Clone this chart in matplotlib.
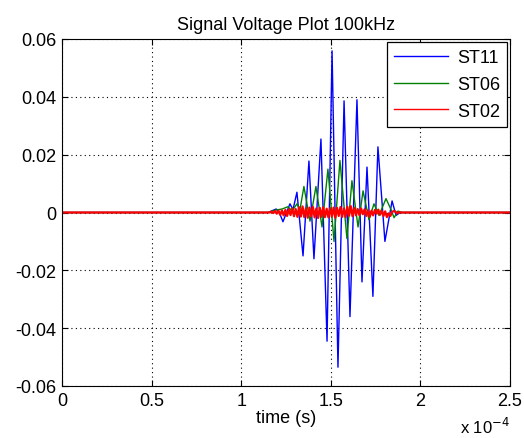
import numpy as np
import matplotlib
matplotlib.use('Agg')
import matplotlib.pyplot as plt
from matplotlib.ticker import FuncFormatter

plt.rcParams['font.family'] = ['Liberation Sans', 'DejaVu Sans']

# times in units of 1e-4 s
st11_t = [0, 1.150, 1.172, 1.195, 1.211, 1.233, 1.256, 1.272, 1.289, 1.311, 1.345,
          1.378, 1.406, 1.445, 1.479, 1.507, 1.540, 1.574, 1.607, 1.646, 1.674,
          1.702, 1.735, 1.763, 1.802, 1.842, 1.864, 1.887, 2.5]
st11_v = [0, 0, 0.0006, 0.0012, 0.0003, -0.0032, 0.0005, 0.0030, 0.0010, 0.0070, -0.0150,
          0.0178, -0.0160, 0.0254, -0.0445, 0.0559, -0.0535, 0.0386, -0.0360, 0.0390, -0.0240,
          0.0157, -0.0290, 0.0227, -0.0100, 0.0040, -0.0010, 0, 0]

st06_t = [0, 1.150, 1.189, 1.228, 1.261, 1.284, 1.311, 1.328, 1.350, 1.384, 1.417,
          1.451, 1.484, 1.518, 1.551, 1.590, 1.618, 1.652, 1.680, 1.713, 1.741,
          1.769, 1.808, 1.836, 1.853, 1.875, 1.897, 2.5]
st06_v = [0, 0, 0.0008, 0.0012, 0.0020, 0.0005, 0.0030, 0.0010, 0.0090, -0.0030, 0.0090,
          -0.0050, 0.0150, -0.0100, 0.0180, -0.0090, 0.0110, -0.0050, 0.0075, -0.0025, 0.0030,
          -0.0010, 0.0048, 0.0010, -0.0018, 0.0005, 0, 0]

st02_v = [0, 0.0003, -0.0002, 0.0005, -0.0004, 0.0006, -0.0008, 0.0007, -0.0010, 0.0009,
          -0.0012, 0.0011, -0.0009, 0.0014, -0.0013, 0.0012, -0.0015, 0.0018, -0.0014, 0.0021,
          -0.0016, 0.0015, -0.0018, 0.0017, -0.0013, 0.0019, -0.0017, 0.0014, -0.0019, 0.0016,
          -0.0015, 0.0018, -0.0016, 0.0013, -0.0017, 0.0015, -0.0014, 0.0017, -0.0018, 0.0016,
          -0.0012, 0.0019, -0.0015, 0.0014, -0.0016, 0.0020, -0.0011, 0.0022, -0.0013, 0.0016,
          -0.0010, 0.0012, -0.0009, 0.0014, -0.0006, 0.0011, -0.0012, 0.0008, -0.0015, 0.0006,
          -0.0010, 0.0009, -0.0004, 0.0010, -0.0008, 0.0006, -0.0012, 0.0004, -0.0016, -0.0003,
          -0.0012, 0.0002, 0.0005, 0.0003, -0.0003, 0.0001, 0]
st02_span = (1.16, 1.89)

xticks = [0, 0.5, 1, 1.5, 2, 2.5]
yticks = [-0.06, -0.04, -0.02, 0, 0.02, 0.04, 0.06]

scale = 1e-4
t11 = np.array(st11_t) * scale
t06 = np.array(st06_t) * scale
t02 = np.concatenate([[0], np.linspace(st02_span[0], st02_span[1], len(st02_v)), [2.5]]) * scale
v02 = np.concatenate([[0], st02_v, [0]])

fig = plt.figure(figsize=(5.24, 4.39), dpi=100)
ax = fig.add_axes([62 / 524, 52 / 439, 448 / 524, 347 / 439])

ax.plot(t11, st11_v, color='#0000ff', lw=1.0, label='ST11')
ax.plot(t06, st06_v, color='#008000', lw=1.0, label='ST06')
ax.plot(t02, v02, color='#ff0000', lw=1.6, label='ST02')

ax.set_xlim(0, 2.5e-4)
ax.set_ylim(-0.06, 0.06)
ax.set_xticks([x * scale for x in xticks])
ax.set_yticks(yticks)
ax.xaxis.set_major_formatter(FuncFormatter(lambda v, p: '%g' % round(v / scale, 3)))
ax.yaxis.set_major_formatter(FuncFormatter(lambda v, p: '%g' % round(v, 3)))
ax.tick_params(direction='in', length=4, width=0.8, top=True, right=True,
               labelsize=13, colors='black', pad=4)
ax.grid(True, color='black', linestyle=(0, (1, 3)), linewidth=0.8)
for s in ax.spines.values():
    s.set_linewidth(0.8)

ax.set_title('Signal Voltage Plot 100kHz', fontsize=13, pad=7)
ax.set_xlabel('time (s)', fontsize=13, labelpad=0)
fig.text(510 / 524, 2 / 439, r'x 10$^{-4}$', ha='right', va='bottom', fontsize=12)

leg = ax.legend(loc='upper right', fontsize=13, fancybox=False, framealpha=1,
                edgecolor='black', borderaxespad=0.15, handlelength=3.0,
                labelspacing=0.55, borderpad=0.4, handletextpad=0.5)
leg.get_frame().set_linewidth(0.9)
for h in leg.get_lines():
    h.set_linewidth(1.0)

fig.savefig('out.png', dpi=100)
